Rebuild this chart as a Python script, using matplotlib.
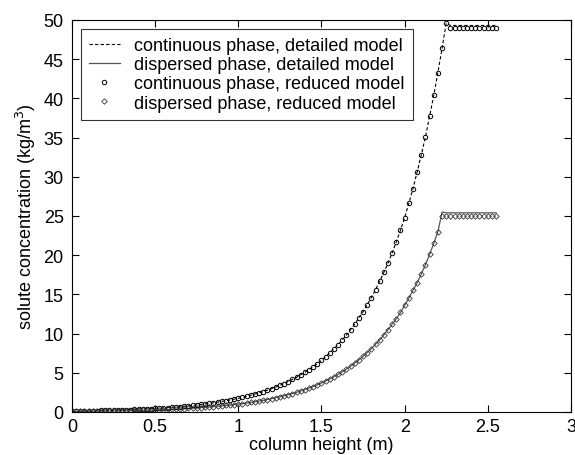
import matplotlib
matplotlib.use('Agg')
import matplotlib.pyplot as plt

plt.rcParams['font.family'] = ['Liberation Sans', 'DejaVu Sans']

# column height grid (m), step 0.025
height = [0.0, 0.025, 0.05, 0.075, 0.1, 0.125, 0.15, 0.175, 0.2, 0.225,
          0.25, 0.275, 0.3, 0.325, 0.35, 0.375, 0.4, 0.425, 0.45, 0.475,
          0.5, 0.525, 0.55, 0.575, 0.6, 0.625, 0.65, 0.675, 0.7, 0.725,
          0.75, 0.775, 0.8, 0.825, 0.85, 0.875, 0.9, 0.925, 0.95, 0.975,
          1.0, 1.025, 1.05, 1.075, 1.1, 1.125, 1.15, 1.175, 1.2, 1.225,
          1.25, 1.275, 1.3, 1.325, 1.35, 1.375, 1.4, 1.425, 1.45, 1.475,
          1.5, 1.525, 1.55, 1.575, 1.6, 1.625, 1.65, 1.675, 1.7, 1.725,
          1.75, 1.775, 1.8, 1.825, 1.85, 1.875, 1.9, 1.925, 1.95, 1.975,
          2.0, 2.025, 2.05, 2.075, 2.1, 2.125, 2.15, 2.175, 2.2, 2.225,
          2.25, 2.275, 2.3, 2.325, 2.35, 2.375, 2.4, 2.425, 2.45, 2.475,
          2.5, 2.525, 2.55]

# continuous phase concentration (kg/m3)
cont_detailed = [0.12, 0.13, 0.14, 0.15, 0.16, 0.17, 0.18, 0.20, 0.21, 0.23,
                 0.24, 0.26, 0.27, 0.29, 0.31, 0.34, 0.36, 0.38, 0.41, 0.44,
                 0.47, 0.50, 0.53, 0.57, 0.61, 0.65, 0.69, 0.74, 0.79, 0.85,
                 0.90, 0.97, 1.03, 1.10, 1.18, 1.26, 1.35, 1.44, 1.54, 1.64,
                 1.75, 1.87, 2.00, 2.14, 2.29, 2.44, 2.61, 2.79, 2.98, 3.18,
                 3.40, 3.63, 3.88, 4.15, 4.43, 4.74, 5.06, 5.41, 5.78, 6.17,
                 6.59, 7.05, 7.53, 8.04, 8.60, 9.18, 9.81, 10.5, 11.2, 12.0,
                 12.8, 13.7, 14.6, 15.6, 16.7, 17.8, 19.0, 20.3, 21.7, 23.2,
                 24.8, 26.6, 28.5, 30.6, 32.8, 35.1, 37.7, 40.4, 43.3, 46.4,
                 49.6, 49.3, 49.3, 49.3, 49.3, 49.3, 49.3, 49.3, 49.3, 49.3,
                 49.3, 49.3, 49.3]
cont_reduced = cont_detailed[:91] + [49.0] * 12

# dispersed phase concentration (kg/m3)
disp_detailed = [0.07, 0.08, 0.08, 0.09, 0.09, 0.10, 0.11, 0.12, 0.12, 0.13,
                 0.14, 0.15, 0.16, 0.17, 0.18, 0.20, 0.21, 0.22, 0.24, 0.26,
                 0.27, 0.29, 0.31, 0.33, 0.35, 0.38, 0.40, 0.43, 0.46, 0.49,
                 0.52, 0.56, 0.60, 0.64, 0.68, 0.73, 0.78, 0.83, 0.88, 0.94,
                 1.01, 1.07, 1.15, 1.22, 1.31, 1.39, 1.49, 1.59, 1.70, 1.81,
                 1.93, 2.06, 2.20, 2.35, 2.51, 2.67, 2.85, 3.05, 3.25, 3.47,
                 3.70, 3.95, 4.22, 4.50, 4.80, 5.13, 5.47, 5.84, 6.23, 6.65,
                 7.10, 7.58, 8.08, 8.63, 9.21, 9.83, 10.5, 11.2, 11.9, 12.7,
                 13.6, 14.5, 15.5, 16.5, 17.6, 18.8, 20.1, 21.5, 23.0, 25.5,
                 25.4, 25.4, 25.4, 25.4, 25.4, 25.4, 25.4, 25.4, 25.4, 25.4,
                 25.4, 25.4, 25.4]
disp_reduced = disp_detailed[:89] + [25.0] * 14

fig = plt.figure(figsize=(5.75, 4.56), dpi=100)
ax = fig.add_axes([0.1252, 0.0943, 0.8678, 0.8597])

ax.plot(height, cont_detailed, linestyle=(0, (3, 2)), color='black', lw=0.8,
        label='continuous phase, detailed model')
ax.plot(height, disp_detailed, linestyle='-', color='#555555', lw=0.9,
        label='dispersed phase, detailed model')
ax.plot(height, cont_reduced, linestyle='none', marker='o', ms=3.2,
        mfc='none', mec='black', mew=0.7,
        label='continuous phase, reduced model')
ax.plot(height, disp_reduced, linestyle='none', marker='D', ms=2.8,
        mfc='none', mec='#333333', mew=0.6,
        label='dispersed phase, reduced model')

ax.set_xlim(0, 3)
ax.set_ylim(0, 50)
ax.set_xticks([0, 0.5, 1, 1.5, 2, 2.5, 3])
ax.set_xticklabels(['0', '0.5', '1', '1.5', '2', '2.5', '3'])
ax.set_yticks(range(0, 51, 5))
ax.tick_params(direction='in', top=True, right=True, length=5, width=0.8,
               labelsize=13, colors='black')
ax.tick_params(axis='y', pad=6)
ax.tick_params(axis='x', pad=4)
for s in ax.spines.values():
    s.set_linewidth(0.8)

ax.set_xlabel('column height (m)', fontsize=13, labelpad=1)
ax.set_ylabel('solute concentration (kg/m$^3$)', fontsize=13, labelpad=4)

leg = ax.legend(loc='upper left', fontsize=13, frameon=True, fancybox=False,
                edgecolor='black', handlelength=1.7, borderpad=0.45,
                labelspacing=0.12, handletextpad=0.8, borderaxespad=0.5)
leg.get_frame().set_linewidth(0.8)

fig.savefig('out.png', dpi=100)
